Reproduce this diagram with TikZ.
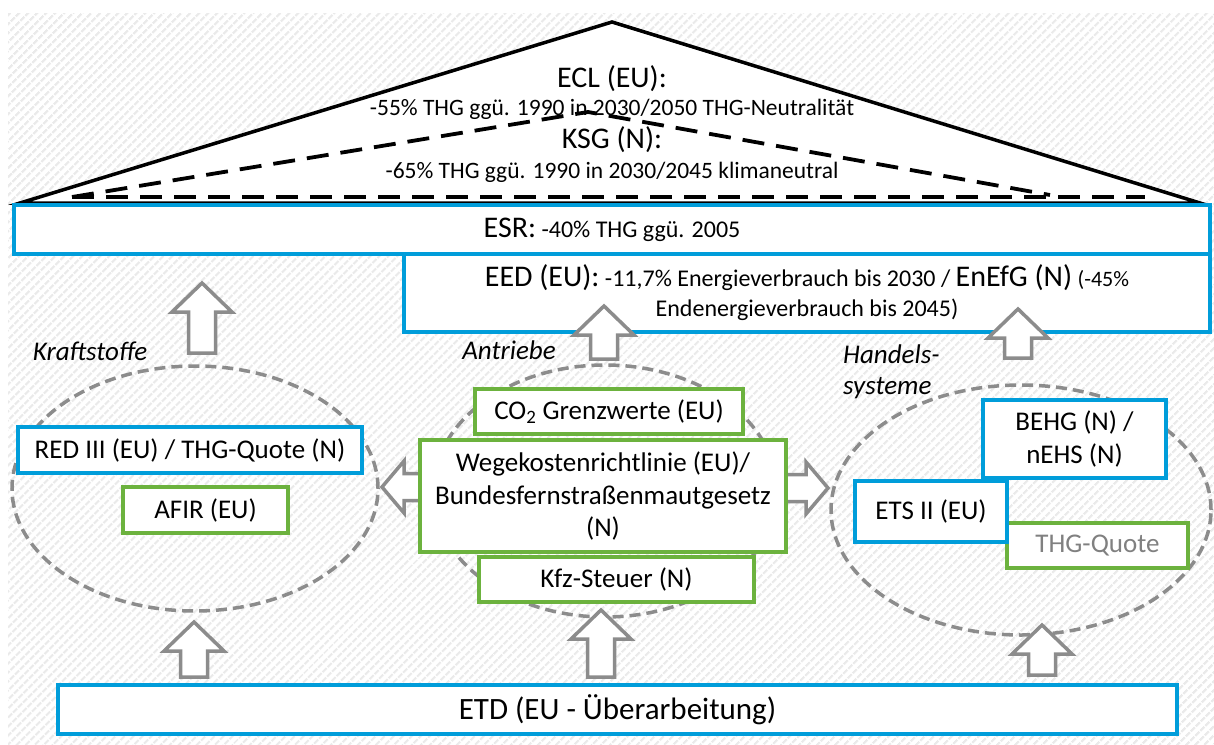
\documentclass[tikz,border=0pt]{standalone}
\usepackage{fontspec}
\setmainfont{Carlito}
\usetikzlibrary{patterns.meta,shapes.geometric}
\definecolor{myblue}{RGB}{0,157,218}
\definecolor{mygreen}{RGB}{108,178,62}
\definecolor{mygray}{RGB}{140,140,140}
\definecolor{txtgray}{RGB}{128,128,128}
\definecolor{hatch}{RGB}{234,234,234}
\newcommand\fs[2]{\fontsize{#1}{#2}\selectfont}
\newcommand\hup[3]{\draw[hollow] (#1,#2) -- ({#1+30},{#2+29}) -- ({#1+13.5},{#2+29}) -- ({#1+13.5},#3) -- ({#1-13.5},#3) -- ({#1-13.5},{#2+29}) -- ({#1-30},{#2+29}) -- cycle;}
\newcommand\hlr[3]{\draw[hollow] (#1,#3) -- ({#1+22},{#3-26}) -- ({#1+22},{#3-13.5}) -- ({#2-22},{#3-13.5}) -- ({#2-22},{#3-26}) -- (#2,#3) -- ({#2-22},{#3+26}) -- ({#2-22},{#3+13.5}) -- ({#1+22},{#3+13.5}) -- ({#1+22},{#3+26}) -- cycle;}
\begin{document}
\begin{tikzpicture}[x=1pt,y=-1pt,
  bx/.style={rectangle, draw, line width=4pt, fill=white, inner sep=0pt, align=center, font=\fs{27}{32.5}},
  bluebox/.style={bx, draw=myblue},
  greenbox/.style={bx, draw=mygreen},
  hollow/.style={draw=mygray, line width=3.5pt, fill=white, line join=miter},
  grp/.style={ellipse, draw=mygray, line width=3.5pt, dash pattern=on 11pt off 6pt, inner sep=0pt},
  roofdash/.style={line width=3.8pt, dash pattern=on 22pt off 12pt},
  lbl/.style={font=\fs{27}{31}\itshape, inner sep=0pt},
  rooftxt/.style={anchor=base, inner sep=0pt},
]
\useasboundingbox (0,0) rectangle (1214,744);
\fill[white] (0,0) rectangle (1214,744);
\fill[pattern={Lines[angle=45,distance=6.5pt,line width=2.6pt]}, pattern color=hatch] (8,13) rectangle (1214,744);

% roof
\coordinate (rl) at (20,203);
\coordinate (rt) at (612,22);
\coordinate (rr) at (1200,203);
\filldraw[fill=white, line width=3.5pt, line join=miter] (rl) -- (rt) -- (rr) -- cycle;
\coordinate (dl) at (72,197);
\coordinate (dt) at (588,112);
\coordinate (dr) at (1050,195);
\coordinate (db) at (1145,197);
\draw[roofdash] (dl) -- (dt) -- (dr);
\draw[roofdash] (dl) -- (db);

\node[rooftxt, font=\fs{30}{36}] (ecl) at (612,87) {ECL (EU):};
\node[rooftxt, font=\fs{23.5}{28}] (ecltxt) at (612,115) {-55\% THG ggü. 1990 in 2030/2050 THG-Neutralität};
\node[rooftxt, font=\fs{30}{36}] (ksg) at (612,148) {KSG (N):};
\node[rooftxt, font=\fs{23.5}{28}] (ksgtxt) at (612,178) {-65\% THG ggü. 1990 in 2030/2045 klimaneutral};

% ESR / EED
\node[bluebox, minimum width=1196, minimum height=49, font=\fs{24}{29}] (esr) at (612,229.5) {{\fs{30}{29}ESR:} -40\% THG ggü. 2005};
\node[bluebox, minimum width=806, minimum height=78, font=\fs{24}{30}] (eed) at (807,293)
  {{\fs{30}{30}EED (EU):} -11,7\% Energieverbrauch bis 2030 / {\fs{30}{30}EnEfG (N)} {\fs{22}{30}(-45\%}\\Endenergieverbrauch bis 2045)};

% group ellipses
\node[grp, minimum width=366, minimum height=245] (fuel) at (195,488.5) {};
\node[grp, minimum width=344, minimum height=252] (drive) at (605,491) {};
\node[grp, minimum width=380, minimum height=250] (trade) at (1021,510) {};

\node[lbl] (kraft) at (90,351) {Kraftstoffe};
\node[lbl] (antr) at (509,350) {Antriebe};
\node[lbl, anchor=north west, align=left] (handel) at (843,345) {Handels-\\systeme};

% double arrows
\hlr{382}{462}{487}
\hlr{750}{828}{488}

% boxes
\node[bluebox, minimum width=344, minimum height=46] (red) at (190,450) {RED III (EU) / THG-Quote (N)};
\node[greenbox, minimum width=165, minimum height=46] (afir) at (205.5,510) {AFIR (EU)};
\node[greenbox, minimum width=268, minimum height=45] (co2) at (609,411.5) {CO\textsubscript{2} Grenzwerte (EU)};
\node[greenbox, minimum width=366, minimum height=112] (wege) at (603,496) {Wegekostenrichtlinie (EU)/\\Bundesfernstraßenmautgesetz\\(N)};
\node[greenbox, minimum width=275, minimum height=45] (kfz) at (616.5,579.5) {Kfz-Steuer (N)};
\node[bluebox, minimum width=183, minimum height=78] (behg) at (1074.5,439) {BEHG (N) /\\nEHS (N)};
\node[greenbox, minimum width=181, minimum height=45, text=txtgray] (thg) at (1097.5,545.5) {THG-Quote};
\node[bluebox, minimum width=152, minimum height=61] (ets) at (931,511.5) {ETS II (EU)};
\node[bluebox, minimum width=1119, minimum height=49, font=\fs{31}{36}] (etd) at (617.5,709.5) {ETD (EU - Überarbeitung)};

% up arrows
\hup{202}{283}{353}
\hup{604}{306}{359}
\hup{1018}{309}{358}
\hup{194}{622}{677}
\hup{601}{610}{677}
\hup{1042}{625}{675}
\end{tikzpicture}
\end{document}
